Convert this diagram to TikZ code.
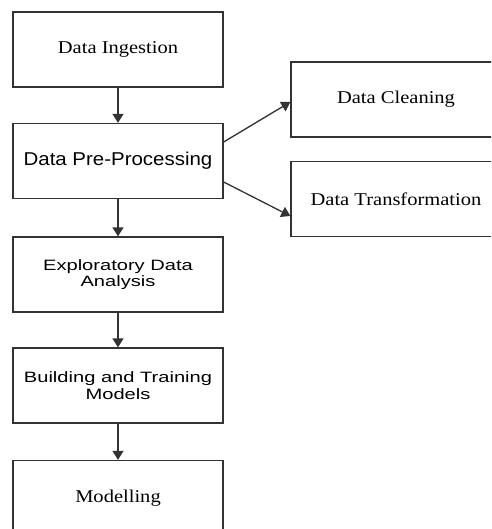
\documentclass[tikz,border=0pt]{standalone}
\usepackage{fontspec}
\setmainfont[FakeStretch=1.14]{Liberation Serif}
\newfontfamily\wideSans[FakeStretch=1.10]{Liberation Sans}
\newfontfamily\widerSans[FakeStretch=1.34]{Liberation Sans}
\usetikzlibrary{arrows.meta}
\begin{document}
\begin{tikzpicture}[x=1pt,y=-1pt,
  stage/.style={draw=black!80,line width=1.3pt,fill=white,minimum width=210pt,minimum height=75pt,inner sep=0pt,align=center},
  serif/.style={font=\fontsize{18}{20}\selectfont},
  sansone/.style={font=\wideSans\fontsize{18.6}{20}\selectfont},
  sanstwo/.style={font=\widerSans\fontsize{15}{16.5}\selectfont},
  flow/.style={draw=black!80,line width=1.3pt,-{Triangle[length=9pt,width=11pt]}}]
  \useasboundingbox (0,0) rectangle (491,529);
  \clip (0,0) rectangle (491,529);
  \fill[white] (0,0) rectangle (491,529);
  % main pipeline
  \node[stage,serif]   (ing) at (118,49.5)  {Data Ingestion};
  \node[stage,sansone] (pre) at (118,161)   {Data Pre-Processing};
  \node[stage,sanstwo] (eda) at (118,274.5) {Exploratory Data\\Analysis};
  \node[stage,sanstwo] (btm) at (118,385.5) {Building and Training\\Models};
  \node[stage,serif]   (mod) at (118,498)   {Modelling};
  % pre-processing sub-steps
  \node[stage,serif] (cln) at (396,99.5) {Data Cleaning};
  \node[stage,serif] (trf) at (396,199)  {Data Transformation};
  % connectors
  \draw[flow] (ing) -- (pre);
  \draw[flow] (pre) -- (eda);
  \draw[flow] (eda) -- (btm);
  \draw[flow] (btm) -- (mod);
  \draw[flow] (pre.east |- 0,142) -- (cln.west |- 0,102);
  \draw[flow] (pre.east |- 0,182) -- (trf.west |- 0,216);
\end{tikzpicture}
\end{document}
